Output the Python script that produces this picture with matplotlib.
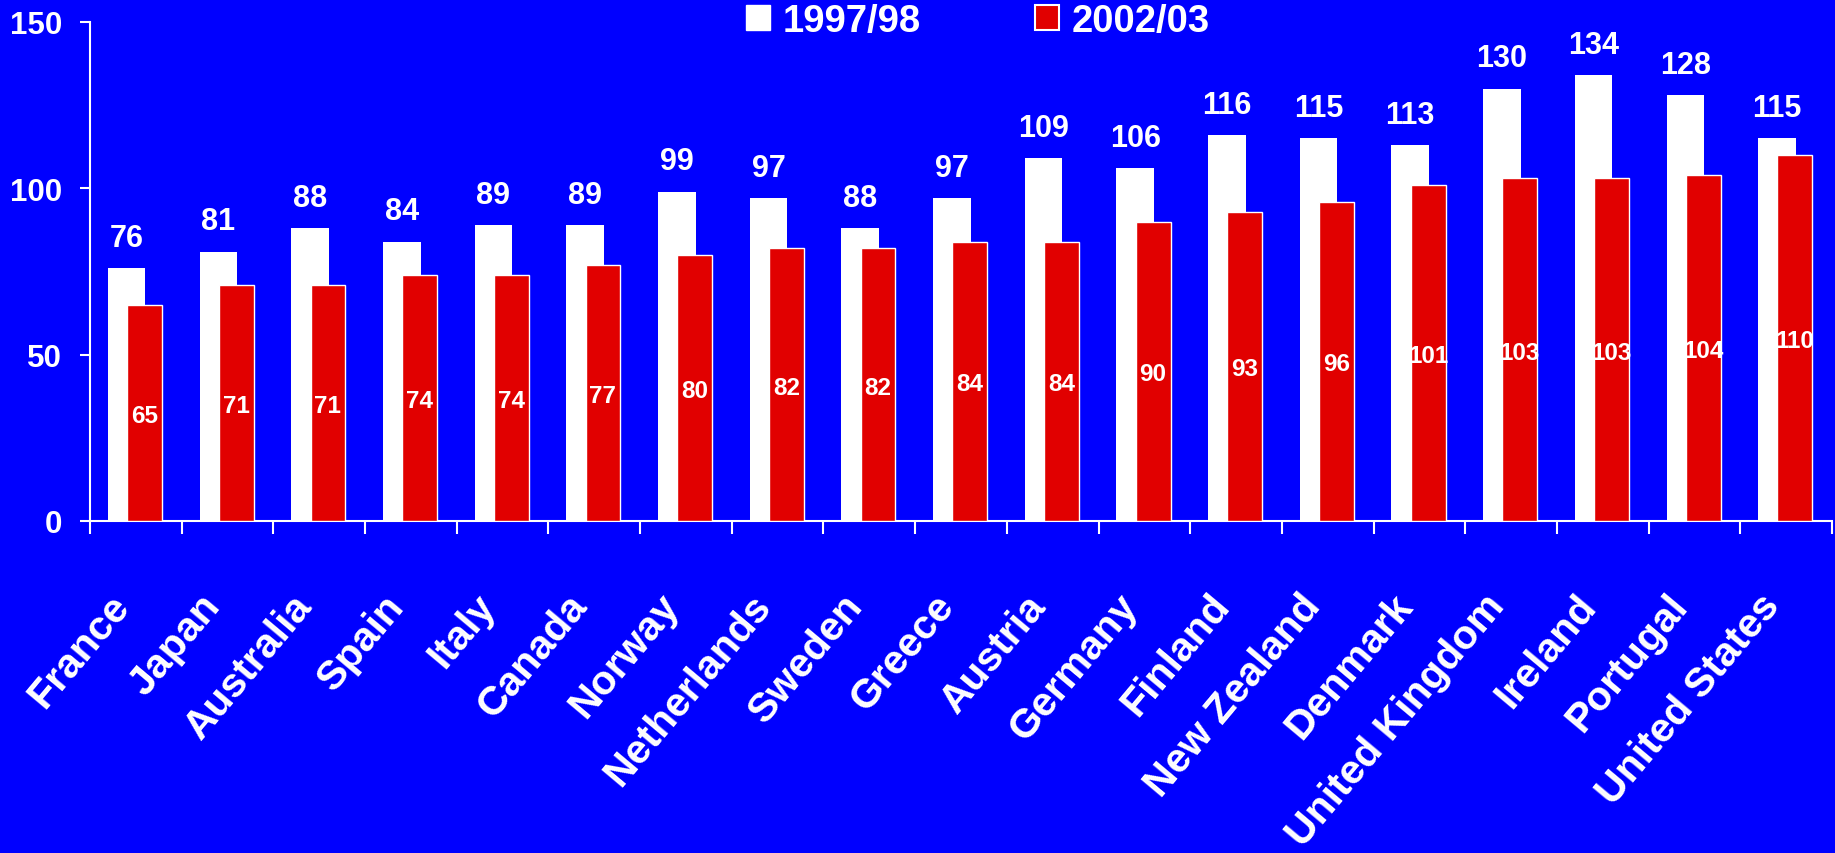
import numpy as np
import matplotlib
matplotlib.use("Agg")
import matplotlib.pyplot as plt
import matplotlib.transforms as mtransforms
from matplotlib.patches import Patch

# values per country, two survey periods
countries = ["France", "Japan", "Australia", "Spain", "Italy", "Canada", "Norway",
             "Netherlands", "Sweden", "Greece", "Austria", "Germany", "Finland",
             "New Zealand", "Denmark", "United Kingdom", "Ireland", "Portugal",
             "United States"]
v_9798 = [76, 81, 88, 84, 89, 89, 99, 97, 88, 97, 109, 106, 116, 115, 113, 130, 134, 128, 115]
v_0203 = [65, 71, 71, 74, 74, 77, 80, 82, 82, 84, 84, 90, 93, 96, 101, 103, 103, 104, 110]
series_names = ["1997/98", "2002/03"]

blue = "#0000FF"
red = "#E10000"
white = "white"

plt.rcParams["font.family"] = ["Liberation Sans", "DejaVu Sans"]
plt.rcParams["font.weight"] = "bold"

fig = plt.figure(figsize=(18.35, 8.54), dpi=100, facecolor=blue)
ax = fig.add_axes([0.04905, 0.38876, 0.94932, 0.58431])
ax.set_facecolor(blue)

x = np.arange(len(countries))
b1 = ax.bar(x - 0.10, v_9798, width=0.41, color=white, linewidth=0, zorder=2)
b2 = ax.bar(x + 0.095, v_0203, width=0.38, color=red, edgecolor=white,
            linewidth=1.0, zorder=3)

# value labels: above the white bars, inside the red bars
for xi, v in zip(x, v_9798):
    ax.annotate(str(v), (xi - 0.10, v), xytext=(0, 16), textcoords="offset points",
                ha="center", va="baseline", color=white, fontsize=22,
                fontweight="bold", zorder=4)
for xi, v in zip(x, v_0203):
    ax.text(xi + 0.095, v / 2, str(v), ha="center", va="center_baseline",
            color=white, fontsize=17.5, fontweight="bold", zorder=4)

ax.set_xlim(-0.5, len(countries) - 0.5)
ax.set_ylim(0, 150)
ax.set_yticks([0, 50, 100, 150])
ax.tick_params(axis="y", colors=white, labelsize=22.5, length=7, width=1.5,
               direction="out", pad=13)
for lbl in ax.get_yticklabels():
    lbl.set_fontweight("bold")

# category labels at centres, tick marks on category boundaries
ax.set_xticks(x)
ax.set_xticklabels(countries, rotation=50, ha="right", va="center",
                   rotation_mode="anchor", fontsize=29.5, fontweight="bold",
                   color=white)
ax.tick_params(axis="x", which="major", length=0, pad=56)
shift = mtransforms.ScaledTranslation(-0.14, 0, fig.dpi_scale_trans)
for lbl in ax.get_xticklabels():
    lbl.set_transform(lbl.get_transform() + shift)
ax.set_xticks(np.arange(-0.5, len(countries)), minor=True)
ax.tick_params(axis="x", which="minor", colors=white, length=9.5, width=1.5,
               direction="out")

for side in ["top", "right"]:
    ax.spines[side].set_visible(False)
for side in ["left", "bottom"]:
    ax.spines[side].set_color(white)
    ax.spines[side].set_linewidth(1.5)

handles = [Patch(facecolor=white, edgecolor=white, linewidth=1),
           Patch(facecolor=red, edgecolor=white, linewidth=1.5)]
leg = fig.legend(handles, series_names, loc="center", bbox_to_anchor=(0.533, 0.974),
                 ncol=2, frameon=False, fontsize=27.5, handlelength=0.63,
                 handleheight=0.63, handletextpad=0.32, columnspacing=3.0,
                 borderpad=0)
for t in leg.get_texts():
    t.set_color(white)
    t.set_fontweight("bold")

fig.savefig("out.png", dpi=100, facecolor=blue)
